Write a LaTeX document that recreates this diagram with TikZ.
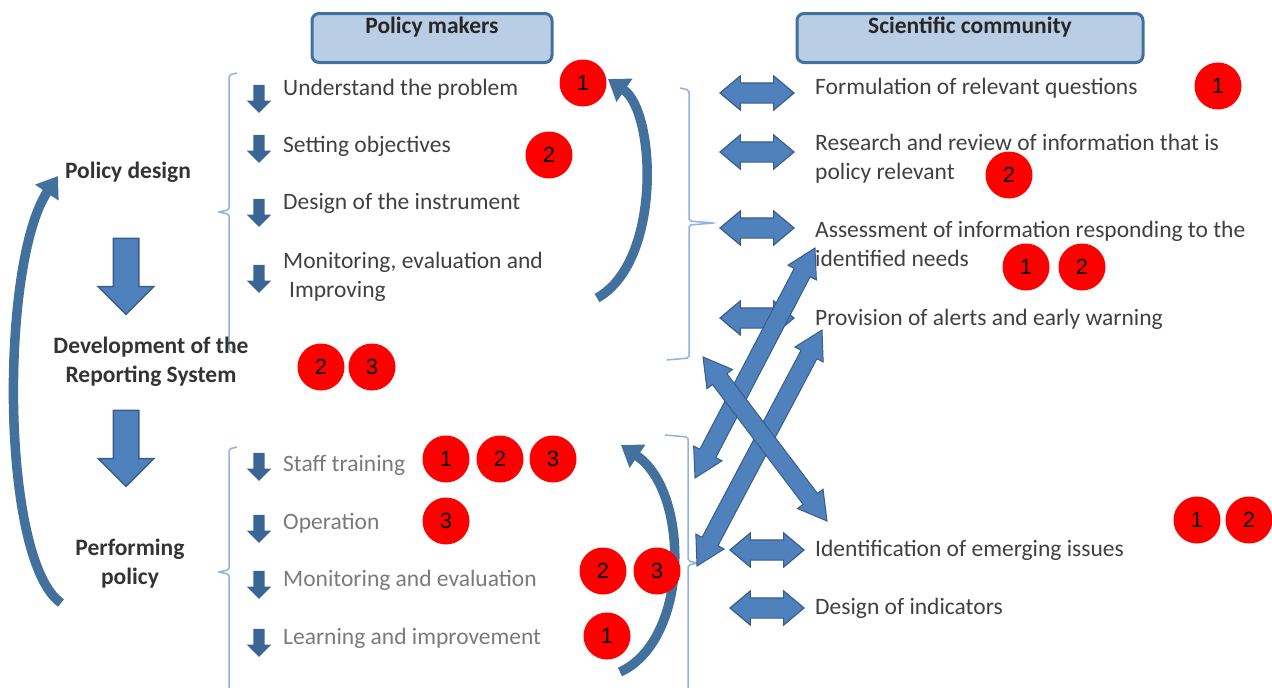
\documentclass[tikz,border=0pt]{standalone}
\usepackage{fontspec}
\setmainfont{Carlito}
\newfontfamily\badgefont{Liberation Sans}
\usetikzlibrary{arrows.meta, shapes.arrows, calc}

\definecolor{hdrfill}{HTML}{B9CDE5}
\definecolor{hdrline}{HTML}{41719C}
\definecolor{blkfill}{HTML}{4F81BD}
\definecolor{blkline}{HTML}{385D8A}
\definecolor{tinycol}{HTML}{3A6594}
\definecolor{curvcol}{HTML}{41719C}
\definecolor{brkcol}{HTML}{8DB3E2}
\definecolor{stepcol}{HTML}{404040}
\definecolor{opcol}{HTML}{7A7A7A}
\colorlet{badgecol}{red}

\tikzset{
  every node/.style={font=\fontsize{23.5}{28.5}\selectfont},
  header/.style={draw=hdrline, line width=3pt, fill=hdrfill, rounded corners=7pt,
    minimum height=49pt, text height=15pt, text depth=24pt, inner sep=4pt,
    font=\fontsize{23.5}{28.5}\selectfont\bfseries, text=black!85},
  phase/.style={align=center, inner sep=0pt, text=black!80,
    font=\fontsize{23.5}{29}\selectfont\bfseries},
  stepitem/.style={anchor=base west, inner sep=0pt, align=left, text=stepcol},
  opitem/.style={stepitem, text=opcol},
  bigdown/.style={single arrow, draw=blkline, line width=1.5pt, fill=blkfill,
    rotate=-90, minimum height=76pt, inner xsep=0pt, inner ysep=12pt,
    single arrow head extend=15pt},
  tinydown/.style={single arrow, fill=tinycol, rotate=-90, minimum height=28pt,
    inner xsep=0pt, inner ysep=5.5pt, single arrow head extend=6.5pt},
  pairlink/.style={double arrow, draw=blkline, line width=1.2pt, fill=blkfill,
    minimum height=74pt, inner xsep=0pt, inner ysep=9.5pt,
    double arrow head extend=7pt, double arrow tip angle=80},
  xlink/.style={double arrow, draw=blkline, line width=1pt, fill=blkfill,
    inner xsep=0pt, inner ysep=8.5pt, double arrow head extend=7pt,
    double arrow tip angle=60},
  badge/.style={circle, fill=badgecol, minimum size=47pt, inner sep=0pt,
    font=\fontsize{22}{24}\selectfont\badgefont},
  brk/.style={draw=brkcol, line width=1.5pt, rounded corners=2pt},
  backarrow/.style={draw=curvcol, line width=9.5pt,
    -{Triangle[length=20pt, width=27pt]}},
}

\begin{document}
\begin{tikzpicture}[x=1pt, y=-1pt, >=Stealth]
  \useasboundingbox (0,0) rectangle (1272,688);

  % Column headers.
  \node[header, minimum width=240pt] (pm) at (432,38) {Policy makers};
  \node[header, minimum width=346pt] (sc) at (970,38) {Scientific community};

  % Brackets round the two groups of steps.
  \draw[brk] (237,73) -- (229,75) -- (229,210) -- (218,212) -- (229,214)
    -- (229,350) -- (235,353);
  \draw[brk] (237,447) -- (229,449) -- (229,570) -- (218,572) -- (229,574)
    -- (229,700);
  \draw[brk] (680,88) -- (689,90) -- (689,221) -- (714,223) -- (689,225)
    -- (689,358) -- (667,360);
  \draw[brk] (665,435) -- (688,437) -- (688,561) -- (698,563) -- (688,565)
    -- (688,700);

  % Phases of the cycle.
  \node[phase] (pdes) at (128,172) {Policy design};
  \node[phase] (dev) at (151,362) {Development of the\\Reporting System};
  \node[phase] (perf) at (130,564) {Performing\\policy};
  \node[bigdown] (d1) at (126,270) {};
  \node[bigdown] (d2) at (126,442) {};

  % Loop back from performing to design.
  \coordinate (ltail) at (61,603);
  \coordinate (lhead) at (58,176);
  \draw[backarrow] (ltail) .. controls (0,560) and (0,262) .. (lhead);

  % Small arrows in front of each step.
  \foreach \y [count=\i] in {96,146,210,276,464,526,582,640}
    \node[tinydown] (t\i) at (259,\y) {};

  % Steps of the policy makers.
  \node[stepitem] (s1) at (283,95) {Understand the problem};
  \node[stepitem] (s2) at (283,152) {Setting objectives};
  \node[stepitem] (s3) at (283,209) {Design of the instrument};
  \node[stepitem] (s4) at (283,297) {Monitoring, evaluation and\\\hspace*{6pt}Improving};
  \node[opitem] (o1) at (283,471) {Staff training};
  \node[opitem] (o2) at (283,529) {Operation};
  \node[opitem] (o3) at (283,586) {Monitoring and evaluation};
  \node[opitem] (o4) at (283,644) {Learning and improvement};

  % Loops inside the two groups.
  \coordinate (utail) at (597,298);
  \coordinate (uhead) at (608,79);
  \draw[backarrow] (utail) .. controls (662,262) and (656,112) .. (uhead);
  \coordinate (btail) at (620,672);
  \coordinate (bhead) at (621,445);
  \draw[backarrow] (btail) .. controls (690,640) and (690,492) .. (bhead);

  % Tasks of the scientific community.
  \node[stepitem] (c1) at (815,94) {Formulation of relevant questions};
  \node[stepitem] (c2) at (815,179) {Research and review of information that is\\policy relevant};
  \node[stepitem] (c3) at (815,266) {Assessment of information responding to the\\identified needs};
  \node[stepitem] (c4) at (815,325) {Provision of alerts and early warning};
  \node[stepitem] (c5) at (815,556) {Identification of emerging issues};
  \node[stepitem] (c6) at (815,614) {Design of indicators};

  % Two-way links to the tasks.
  \foreach \y [count=\i] in {93,152,228,318}
    \node[pairlink] (h\i) at (757,\y) {};
  \foreach \y [count=\i from 5] in {550,608}
    \node[pairlink] (h\i) at (767,\y) {};

  % Crossing links between the groups.
  \coordinate (xa1) at (695,478);  \coordinate (xa2) at (815,248);
  \coordinate (xb1) at (697,566);  \coordinate (xb2) at (822,330);
  \coordinate (xc1) at (703,357);  \coordinate (xc2) at (827,521);
  \foreach \s/\e in {xa1/xa2, xb1/xb2, xc1/xc2}
    \path let \p1=($(\e)-(\s)$), \n1={veclen(\x1,\y1)}, \n2={atan2(\y1,\x1)} in
      node[xlink, minimum height=\n1, rotate=\n2] (l\s) at ($(\s)!0.5!(\e)$) {};

  % Numbered markers.
  \foreach \x/\y/\n [count=\i] in {583/83/1, 549/155/2, 321/367/2, 372/367/3,
      446/459/1, 500/459/2, 553/459/3, 446/521/3, 603/571/2, 657/571/3,
      607/636/1, 1218/86/1, 1009/175/2, 1026/267/1, 1082/267/2,
      1197/520/1, 1249/520/2}
    \node[badge] (b\i) at (\x,\y) {\n};

\end{tikzpicture}
\end{document}
